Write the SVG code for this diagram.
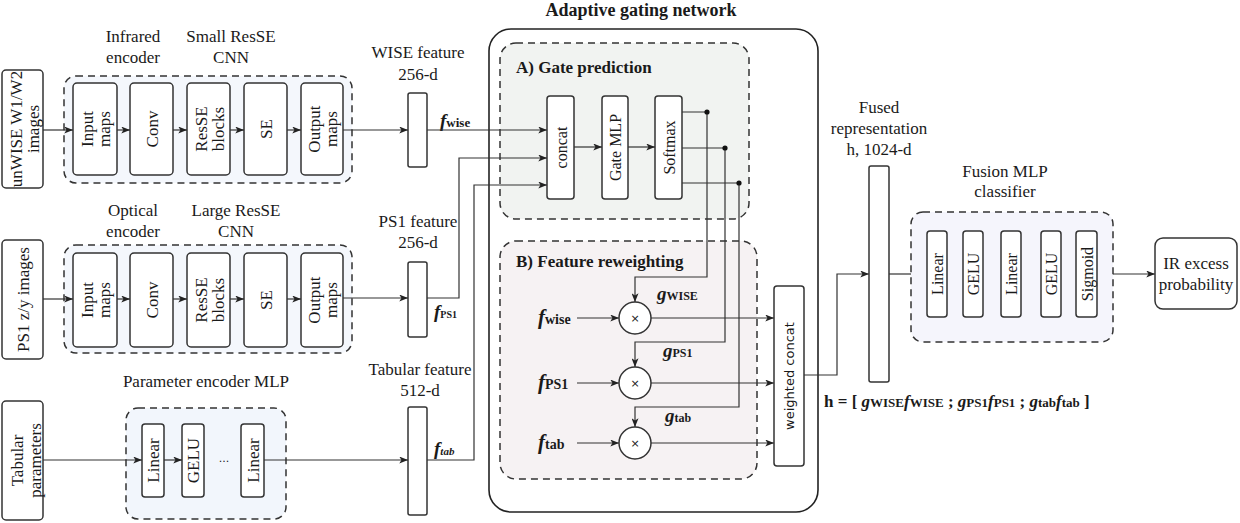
<svg xmlns="http://www.w3.org/2000/svg" width="1240" height="523" viewBox="0 0 1240 523">
<defs>
<style>
.box{fill:#fff;stroke:#333;stroke-width:1.5}
.dash{stroke:#333;stroke-width:1.5;stroke-dasharray:7 5}
.big{fill:#fff;stroke:#222;stroke-width:1.6}
.t{font-family:"Liberation Serif",serif;font-size:17px;fill:#1a1a1a;text-anchor:middle}
.ti{font-family:"Liberation Serif",serif;font-size:16px;fill:#1a1a1a;text-anchor:middle}
.te{font-family:"Liberation Serif",serif;font-size:17px;fill:#1a1a1a;text-anchor:middle}
.b{font-family:"Liberation Serif",serif;font-weight:bold;fill:#1a1a1a}
.s{font-family:"DejaVu Sans",sans-serif;fill:#1a1a1a;text-anchor:middle}
.c{stroke:#333;stroke-width:1.2;fill:none}
.a{marker-end:url(#ah)}
</style>
<marker id="ah" viewBox="0 0 10 8" refX="10" refY="4" markerWidth="9" markerHeight="7" orient="auto" markerUnits="userSpaceOnUse">
<path d="M0,0 L10,4 L0,8 L2.5,4 z" fill="#222"/>
</marker>
</defs>
<rect width="1240" height="523" fill="#fff"/>

<!-- containers -->
<g id="gating-network">
<rect class="big" x="489" y="29" width="329" height="483" rx="22"/>
<text class="b" x="641" y="16" font-size="18" text-anchor="middle">Adaptive gating network</text>
</g>
<g id="gate-prediction">
<rect class="dash" x="500" y="43" width="249" height="176" rx="16" fill="#f1f3f1"/>
<text class="b" x="516" y="73" font-size="17">A) Gate prediction</text>
</g>
<g id="feature-reweighting">
<rect class="dash" x="500" y="241" width="257" height="238" rx="16" fill="#f6f2f3"/>
<text class="b" x="516" y="267" font-size="17">B) Feature reweighting</text>
</g>

<!-- inputs -->
<g id="unwise-images">
<rect class="box" x="2" y="70" width="41" height="118" rx="4"/>
<text class="t" transform="rotate(-90 22.5 129)" x="22.5" y="129"><tspan x="22.5" dy="-1">unWISE W1/W2</tspan><tspan x="22.5" dy="17">images</tspan></text>
</g>
<g id="ps1-images">
<rect class="box" x="2" y="240" width="41" height="119" rx="4"/>
<text class="t" transform="rotate(-90 22.5 299.5)" x="22.5" y="306">PS1 z/y images</text>
</g>
<g id="tabular-parameters">
<rect class="box" x="2" y="401" width="41" height="119" rx="4"/>
<text class="t" transform="rotate(-90 22.5 460.5)" x="22.5" y="460.5"><tspan x="22.5" dy="0">Tabular</tspan><tspan x="22.5" dy="18">parameters</tspan></text>
</g>

<!-- infrared encoder -->
<g id="infrared-encoder">
<text class="t" x="133" y="42">Infrared</text><text class="t" x="133" y="63">encoder</text>
<text class="t" x="231" y="42">Small ResSE</text><text class="t" x="231" y="63">CNN</text>
<rect class="dash" x="64" y="76" width="288" height="107" rx="12" fill="#f4f7fc"/>
<rect class="box" x="73" y="83" width="44" height="92" rx="4"/>
<text class="te" transform="rotate(-90 95 129)" x="95" y="129"><tspan x="95" dy="-2">Input</tspan><tspan x="95" dy="17">maps</tspan></text>
<rect class="box" x="130" y="83" width="43" height="92" rx="4"/>
<text class="te" transform="rotate(-90 151.5 129)" x="151.5" y="135">Conv</text>
<rect class="box" x="187" y="83" width="43" height="92" rx="4"/>
<text class="te" transform="rotate(-90 208.5 129)" x="208.5" y="129"><tspan x="208.5" dy="-2">ResSE</tspan><tspan x="208.5" dy="17">blocks</tspan></text>
<rect class="box" x="244" y="83" width="43" height="92" rx="4"/>
<text class="te" transform="rotate(-90 265.5 129)" x="265.5" y="135">SE</text>
<rect class="box" x="301" y="83" width="42" height="92" rx="4"/>
<text class="te" transform="rotate(-90 322 129)" x="322" y="129"><tspan x="322" dy="-2">Output</tspan><tspan x="322" dy="17">maps</tspan></text>
</g>

<!-- optical encoder -->
<g id="optical-encoder">
<text class="t" x="133" y="216">Optical</text><text class="t" x="133" y="237">encoder</text>
<text class="t" x="236" y="216">Large ResSE</text><text class="t" x="236" y="237">CNN</text>
<rect class="dash" x="64" y="245" width="288" height="108" rx="12" fill="#f4f7fc"/>
<rect class="box" x="73" y="253" width="44" height="94" rx="4"/>
<text class="te" transform="rotate(-90 95 300)" x="95" y="300"><tspan x="95" dy="-2">Input</tspan><tspan x="95" dy="17">maps</tspan></text>
<rect class="box" x="130" y="253" width="43" height="94" rx="4"/>
<text class="te" transform="rotate(-90 151.5 300)" x="151.5" y="306">Conv</text>
<rect class="box" x="187" y="253" width="43" height="94" rx="4"/>
<text class="te" transform="rotate(-90 208.5 300)" x="208.5" y="300"><tspan x="208.5" dy="-2">ResSE</tspan><tspan x="208.5" dy="17">blocks</tspan></text>
<rect class="box" x="244" y="253" width="43" height="94" rx="4"/>
<text class="te" transform="rotate(-90 265.5 300)" x="265.5" y="306">SE</text>
<rect class="box" x="301" y="253" width="42" height="94" rx="4"/>
<text class="te" transform="rotate(-90 322 300)" x="322" y="300"><tspan x="322" dy="-2">Output</tspan><tspan x="322" dy="17">maps</tspan></text>
</g>

<!-- parameter encoder -->
<g id="parameter-encoder">
<text class="t" x="206" y="387">Parameter encoder MLP</text>
<rect class="dash" x="126" y="408" width="160" height="111" rx="12" fill="#f2f6fc"/>
<rect class="box" x="142" y="424" width="22" height="73" rx="3"/>
<text class="t" transform="rotate(-90 153 460.5)" x="153" y="466.5">Linear</text>
<rect class="box" x="182" y="424" width="22" height="73" rx="3"/>
<text class="t" transform="rotate(-90 193 460.5)" x="193" y="466.5">GELU</text>
<text class="s" x="224" y="462" font-size="11">...</text>
<rect class="box" x="241" y="424" width="23" height="73" rx="3"/>
<text class="t" transform="rotate(-90 252.5 460.5)" x="252.5" y="466.5">Linear</text>
</g>

<!-- feature vectors -->
<g id="wise-feature">
<text class="t" x="418" y="58">WISE feature</text><text class="t" x="418" y="80">256-d</text>
<rect class="box" x="408" y="93" width="19" height="74" rx="2"/>
<text class="b" x="440" y="127" font-size="19" font-style="italic">f<tspan font-size="13" font-style="normal">wise</tspan></text>
</g>
<g id="ps1-feature">
<text class="t" x="418" y="227">PS1 feature</text><text class="t" x="418" y="248">256-d</text>
<rect class="box" x="408" y="262" width="19" height="75" rx="2"/>
<text class="b" x="434" y="318" font-size="19" font-style="italic">f<tspan font-size="10" font-style="normal">PS1</tspan></text>
</g>
<g id="tabular-feature">
<text class="t" x="420" y="375">Tabular feature</text><text class="t" x="420" y="396">512-d</text>
<rect class="box" x="408" y="407" width="19" height="108" rx="2"/>
<text class="b" x="434" y="455" font-size="19" font-style="italic">f<tspan font-size="11">tab</tspan></text>
</g>

<!-- gate prediction nodes -->
<g id="concat">
<rect class="box" x="547" y="96" width="27" height="103" rx="3"/>
<text class="ti" transform="rotate(-90 560.5 147.5)" x="560.5" y="153.5">concat</text>
</g>
<g id="gate-mlp">
<rect class="box" x="602" y="96" width="26" height="103" rx="3"/>
<text class="ti" transform="rotate(-90 615 147.5)" x="615" y="153.5">Gate MLP</text>
</g>
<g id="softmax">
<rect class="box" x="655" y="96" width="27" height="103" rx="3"/>
<text class="ti" transform="rotate(-90 668.5 147.5)" x="668.5" y="153.5">Softmax</text>
</g>

<!-- connectors -->
<g id="connectors">
<path class="c a" d="M43,130 H73"/>
<path class="c a" d="M117,130 H130"/>
<path class="c a" d="M173,130 H187"/>
<path class="c a" d="M230,130 H244"/>
<path class="c a" d="M287,130 H301"/>
<path class="c a" d="M343,130 H408"/>
<path class="c a" d="M43,299 H73"/>
<path class="c a" d="M117,299 H130"/>
<path class="c a" d="M173,299 H187"/>
<path class="c a" d="M230,299 H244"/>
<path class="c a" d="M287,299 H301"/>
<path class="c a" d="M343,298 H408"/>
<path class="c a" d="M43,460 H142"/>
<path class="c a" d="M164,460 H182"/>
<path class="c a" d="M264,460 H408"/>
<path class="c a" d="M427,130 H547"/>
<path class="c a" d="M427,298 H459 V158 H547"/>
<path class="c a" d="M427,460 H474 V185 H547"/>
<path class="c a" d="M574,147 H602"/>
<path class="c a" d="M628,147 H655"/>
<path class="c a" d="M682,112 H707 V277 H635 V302"/>
<path class="c a" d="M682,148 H725 V342 H635 V367"/>
<path class="c a" d="M682,183 H739 V407 H635 V427"/>
<circle cx="707" cy="112" r="2.6" fill="#111"/>
<circle cx="725" cy="148" r="2.6" fill="#111"/>
<circle cx="739" cy="183" r="2.6" fill="#111"/>
<path class="c a" d="M577,318 H619"/>
<path class="c a" d="M577,383 H619"/>
<path class="c a" d="M577,443 H619"/>
<path class="c a" d="M651,318 H774"/>
<path class="c a" d="M651,383 H774"/>
<path class="c a" d="M651,443 H774"/>
<path class="c a" d="M804,375 H837 V274 H869"/>
<path class="c" d="M889,274 H911"/>
<path class="c a" d="M947,274 H963"/>
<path class="c a" d="M983,274 H1001"/>
<path class="c a" d="M1021,274 H1041"/>
<path class="c a" d="M1061,274 H1076"/>
<path class="c a" d="M1097,274 H1155"/>
</g>

<!-- reweighting nodes -->
<g id="mul-wise">
<circle class="box" cx="635" cy="318" r="16"/>
<text class="s" x="635" y="322" font-size="11">×</text>
<text class="b" x="538" y="324" font-size="21" font-style="italic">f<tspan font-size="14" font-style="normal">wise</tspan></text>
<text class="b" x="657" y="300" font-size="19" font-style="italic">g<tspan font-size="12" font-style="normal">WISE</tspan></text>
</g>
<g id="mul-ps1">
<circle class="box" cx="635" cy="383" r="16"/>
<text class="s" x="635" y="387" font-size="11">×</text>
<text class="b" x="538" y="389" font-size="21" font-style="italic">f<tspan font-size="14" font-style="normal">PS1</tspan></text>
<text class="b" x="663" y="357" font-size="19" font-style="italic">g<tspan font-size="12" font-style="normal">PS1</tspan></text>
</g>
<g id="mul-tab">
<circle class="box" cx="635" cy="443" r="16"/>
<text class="s" x="635" y="447" font-size="11">×</text>
<text class="b" x="538" y="449" font-size="21" font-style="italic">f<tspan font-size="14" font-style="normal">tab</tspan></text>
<text class="b" x="665" y="422" font-size="19" font-style="italic">g<tspan font-size="12" font-style="normal">tab</tspan></text>
</g>
<g id="weighted-concat">
<rect class="box" x="774" y="286" width="30" height="180" rx="3"/>
<text class="s" font-size="13" transform="rotate(-90 789 376)" x="789" y="381">weighted concat</text>
</g>

<!-- fused representation -->
<g id="fused-representation">
<text class="t" x="879" y="113">Fused</text><text class="t" x="879" y="134">representation</text><text class="t" x="879" y="155">h, 1024-d</text>
<rect class="box" x="869" y="166" width="20" height="216" rx="2"/>
<text class="b" x="824" y="407" font-size="17">h = [ <tspan font-style="italic">g</tspan><tspan font-size="13">WISE</tspan><tspan font-style="italic">f</tspan><tspan font-size="13">WISE</tspan> ; <tspan font-style="italic">g</tspan><tspan font-size="13">PS1</tspan><tspan font-style="italic">f</tspan><tspan font-size="13">PS1</tspan> ; <tspan font-style="italic">g</tspan><tspan font-size="13">tab</tspan><tspan font-style="italic">f</tspan><tspan font-size="13">tab</tspan> ]</text>
</g>

<!-- fusion MLP -->
<g id="fusion-mlp">
<text class="t" x="1005" y="177">Fusion MLP</text><text class="t" x="1005" y="197">classifier</text>
<rect class="dash" x="911" y="212" width="202" height="130" rx="12" fill="#f5f5fc"/>
<rect class="box" x="927" y="231" width="20" height="86" rx="3"/>
<text class="ti" transform="rotate(-90 937 274)" x="937" y="280">Linear</text>
<rect class="box" x="963" y="231" width="20" height="86" rx="3"/>
<text class="ti" transform="rotate(-90 973 274)" x="973" y="280">GELU</text>
<rect class="box" x="1001" y="231" width="20" height="86" rx="3"/>
<text class="ti" transform="rotate(-90 1011 274)" x="1011" y="280">Linear</text>
<rect class="box" x="1041" y="231" width="20" height="86" rx="3"/>
<text class="ti" transform="rotate(-90 1051 274)" x="1051" y="280">GELU</text>
<rect class="box" x="1076" y="231" width="21" height="86" rx="3"/>
<text class="ti" transform="rotate(-90 1086.5 274)" x="1086.5" y="280">Sigmoid</text>
</g>
<g id="ir-excess">
<rect class="box" x="1155" y="238" width="82" height="71" rx="8"/>
<text class="t" x="1196" y="269">IR excess</text><text class="t" x="1196" y="290">probability</text>
</g>
</svg>
